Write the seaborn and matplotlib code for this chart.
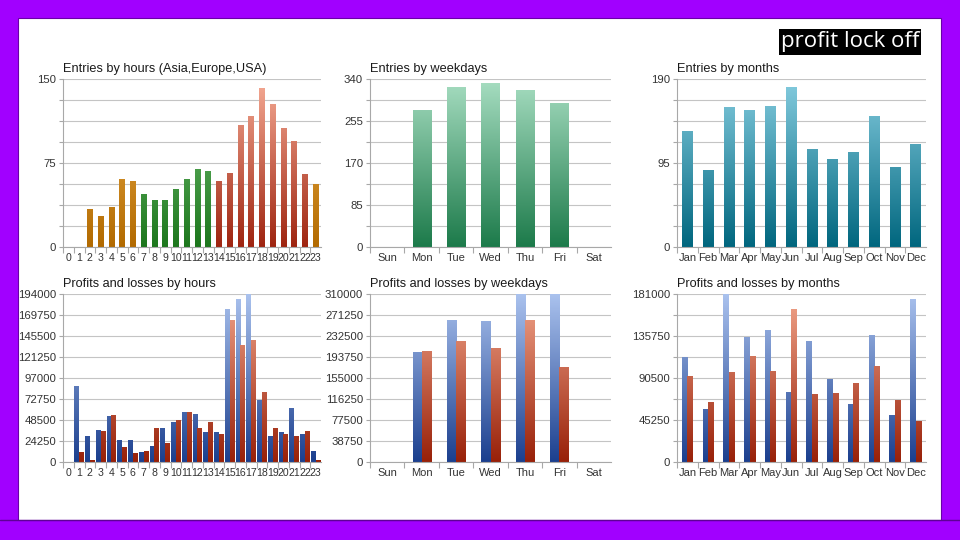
"""
Entries and profit/loss breakdown by hour, weekday and month
"""

import matplotlib.pyplot as plt
import numpy as np
import pandas as pd
import seaborn as sns
from matplotlib.colors import LinearSegmentedColormap
from matplotlib.lines import Line2D
from matplotlib.patches import Rectangle

# ---- data ----
hours = [str(h) for h in range(24)]
hour_entries = [0, 0, 34, 28, 36, 61, 59, 47, 42, 42, 52, 61,
                70, 68, 59, 66, 109, 117, 142, 128, 106, 95, 65, 56]
hour_session = ["Asia", "Asia", "Asia", "Asia", "Asia", "Asia", "Asia",
                "Europe", "Europe", "Europe", "Europe", "Europe", "Europe", "Europe",
                "USA", "USA", "USA", "USA", "USA", "USA", "USA", "USA", "USA",
                "Asia"]

weekdays = ["Sun", "Mon", "Tue", "Wed", "Thu", "Fri", "Sat"]
weekday_entries = [0, 278, 324, 331, 318, 292, 0]

months = ["Jan", "Feb", "Mar", "Apr", "May", "Jun",
          "Jul", "Aug", "Sep", "Oct", "Nov", "Dec"]
month_entries = [131, 87, 158, 155, 160, 181, 111, 99, 107, 148, 90, 116]

hour_profits = [0, 87500, 30000, 37000, 53400, 25400, 25400, 11900, 18800, 39600, 46100, 57200,
                55300, 35000, 35000, 176700, 187900, 194000, 71500, 30000, 34600, 62600, 32300, 12300]
hour_losses = [0, 11100, 2500, 36100, 54600, 17300, 10000, 13100, 39600, 21900, 48800, 57200,
               38800, 46500, 32300, 164000, 134800, 140600, 80300, 38800, 32300, 30400, 35300, 2000]

weekday_profits = [0, 203800, 262700, 260900, 310000, 310000, 0]
weekday_losses = [0, 205000, 224100, 211200, 262100, 175600, 0]

month_profits = [113600, 57400, 181000, 135100, 141900, 75600,
                 130500, 89600, 62000, 136900, 50500, 176000]
month_losses = [92500, 64900, 97500, 114000, 97900, 164500,
                73100, 74200, 85300, 103600, 67000, 44400]

# ---- styling ----
sns.set_theme(style="white")
plt.rcParams["font.family"] = ["Liberation Sans", "DejaVu Sans"]

PURPLE = "#A100FF"
GRID = "#C4C4C4"
AXIS = "#A8A8A8"
TEXT = "#333333"

GRADIENTS = {
    "orange": ("#B26A00", "#F2B450"),
    "green": ("#1C761C", "#7CC87C"),
    "red": ("#9E2410", "#F6AC96"),
    "mint": ("#1C7A4A", "#A8DEC2"),
    "teal": ("#00667E", "#86CDE0"),
    "blue": ("#1B3F8E", "#AAC2EE"),
    "brick": ("#982008", "#F2A68C"),
}


def shade(ax, bars, name, top):
    """Replace flat bar fill with a vertical gradient tied to the axis height."""
    cmap = LinearSegmentedColormap.from_list(name, GRADIENTS[name])
    grad = np.linspace(0, 1, 256).reshape(-1, 1)
    for bar in bars:
        h = bar.get_height()
        if not h or np.isnan(h):
            bar.set_visible(False)
            continue
        x0, w = bar.get_x(), bar.get_width()
        img = ax.imshow(grad, cmap=cmap, origin="lower", aspect="auto",
                        extent=[x0, x0 + w, 0, top], vmin=0, vmax=1, zorder=2)
        img.set_clip_path(bar)
        bar.set_facecolor("none")
        bar.set_edgecolor("none")


def style_axis(ax, title, n, top, label_every, xfont=8):
    step = top / 8
    ticks = [step * i for i in range(9)]
    labels = [f"{t:.0f}" if i % label_every == 0 else "" for i, t in enumerate(ticks)]
    ax.set_ylim(0, top)
    ax.set_xlim(-0.5, n - 0.5)
    ax.set_yticks(ticks)
    ax.set_yticklabels(labels)
    ax.set_xticks(np.arange(n) - 0.5, minor=True)
    ax.tick_params(axis="x", which="major", length=0, labelsize=xfont, colors=TEXT, pad=4)
    ax.tick_params(axis="x", which="minor", length=4, color=AXIS, width=0.8, bottom=True)
    ax.tick_params(axis="y", length=3, color=AXIS, width=0.8, labelsize=8.2, colors=TEXT, pad=2, left=True)
    ax.yaxis.grid(True, color=GRID, linewidth=0.8)
    ax.xaxis.grid(False)
    ax.set_axisbelow(True)
    for side in ("top", "right"):
        ax.spines[side].set_visible(False)
    for side in ("left", "bottom"):
        ax.spines[side].set_color(AXIS)
        ax.spines[side].set_linewidth(0.8)
    ax.set_xlabel("")
    ax.set_ylabel("")
    ax.set_title(title, loc="left", fontsize=9.2, color="#1A1A1A", pad=5)


fig = plt.figure(figsize=(9.6, 5.4), dpi=100)
fig.patch.set_facecolor(PURPLE)
fig.patches.append(Rectangle((18 / 960, 20 / 540), 923 / 960, 502 / 540, transform=fig.transFigure,
                             facecolor="white", edgecolor="#6A00A8", linewidth=0.8, zorder=-2))
fig.lines.append(Line2D([0, 1], [20 / 540, 20 / 540], transform=fig.transFigure,
                        color="#5E0096", linewidth=1.0, zorder=-1))

top_y, bot_y, height = 1 - 247 / 540, 1 - 462 / 540, 168 / 540
cols = [(63, 258), (370, 241), (677, 249)]
axes_top = [fig.add_axes([x / 960, top_y, w / 960, height]) for x, w in cols]
axes_bot = [fig.add_axes([x / 960, bot_y, w / 960, height]) for x, w in cols]
for ax in axes_top + axes_bot:
    ax.set_facecolor("none")
    ax.set_zorder(1)

# ---- top row: entries ----
ax = axes_top[0]
df = pd.DataFrame({"hour": hours, "entries": hour_entries, "session": hour_session})
session_order = ["Asia", "Europe", "USA"]
sns.barplot(data=df, x="hour", y="entries", hue="session", hue_order=session_order, order=hours,
            dodge=False, width=0.5, legend=False, linewidth=0, saturation=1, ax=ax)
for cont, name in zip(ax.containers, ["orange", "green", "red"]):
    shade(ax, cont, name, 150)
style_axis(ax, "Entries by hours (Asia,Europe,USA)", 24, 150, 4, xfont=7.6)

ax = axes_top[1]
df = pd.DataFrame({"day": weekdays, "entries": weekday_entries})
sns.barplot(data=df, x="day", y="entries", order=weekdays, width=0.53,
            linewidth=0, saturation=1, ax=ax)
shade(ax, ax.containers[0], "mint", 340)
style_axis(ax, "Entries by weekdays", 7, 340, 2)

ax = axes_top[2]
df = pd.DataFrame({"month": months, "entries": month_entries})
sns.barplot(data=df, x="month", y="entries", order=months, width=0.5,
            linewidth=0, saturation=1, ax=ax)
shade(ax, ax.containers[0], "teal", 190)
style_axis(ax, "Entries by months", 12, 190, 4)

# ---- bottom row: profits and losses ----
panels = [
    (axes_bot[0], hours, hour_profits, hour_losses, 194000, 1, 0.9, "Profits and losses by hours", 7.6),
    (axes_bot[1], weekdays, weekday_profits, weekday_losses, 310000, 1, 0.53, "Profits and losses by weekdays", 8),
    (axes_bot[2], months, month_profits, month_losses, 181000, 2, 0.52, "Profits and losses by months", 8),
]
for ax, cats, prof, loss, top, every, width, title, xfont in panels:
    df = pd.DataFrame({
        "cat": cats + cats,
        "value": prof + loss,
        "kind": ["Profit"] * len(cats) + ["Loss"] * len(cats),
    })
    sns.barplot(data=df, x="cat", y="value", hue="kind", hue_order=["Profit", "Loss"], order=cats,
                width=width, gap=0, legend=False, linewidth=0, saturation=1, ax=ax)
    shade(ax, ax.containers[0], "blue", top)
    shade(ax, ax.containers[1], "brick", top)
    style_axis(ax, title, len(cats), top, every, xfont=xfont)

fig.text(850 / 960, 1 - 42 / 540, "profit lock off", color="white", fontsize=16,
         family=["Open Sans", "DejaVu Sans"], ha="center", va="center",
         bbox=dict(boxstyle="square,pad=0.1", facecolor="black", edgecolor="none"))

fig.savefig("out.png", dpi=100, facecolor=fig.get_facecolor())
